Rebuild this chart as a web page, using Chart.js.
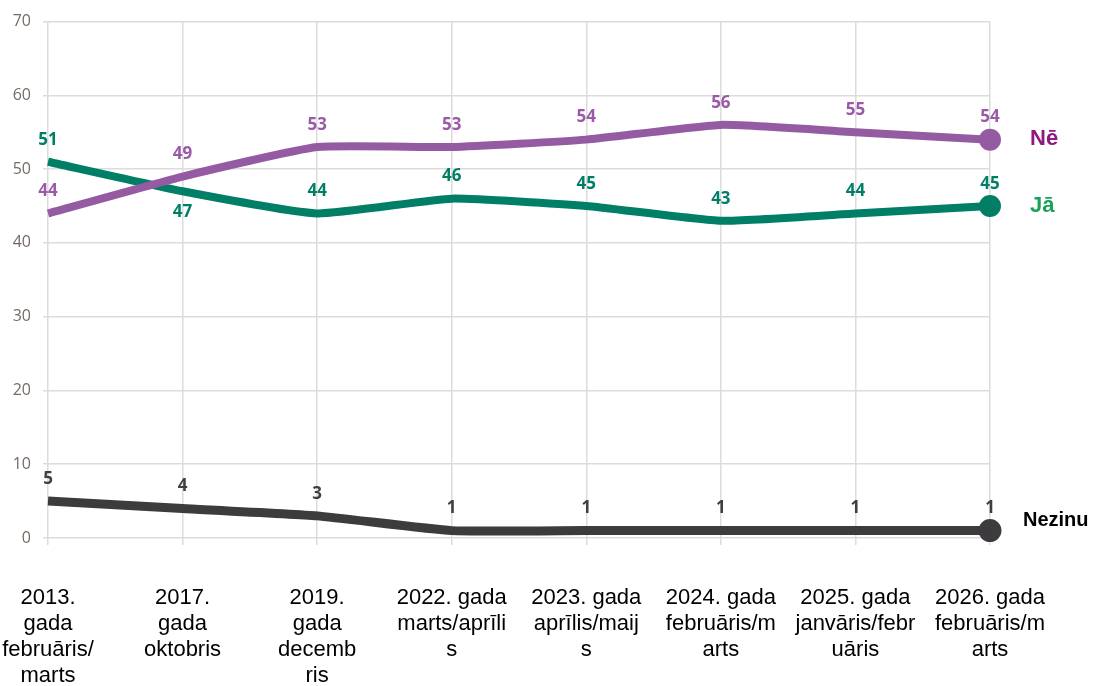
<!DOCTYPE html>
<html>
<head>
<meta charset="utf-8">
<script src="https://cdn.jsdelivr.net/npm/chart.js@4/dist/chart.umd.min.js"></script>
<style>
  html, body { margin: 0; padding: 0; background: #fff; }
  #wrap { width: 1101px; height: 686px; }
</style>
</head>
<body>
<div id="wrap"><canvas id="chart" width="1101" height="686"></canvas></div>
<script>
// survey waves (x labels, already split into lines as in the picture)
const periods = [
    ['2013.', 'gada', 'februāris/', 'marts'],
    ['2017.', 'gada', 'oktobris'],
    ['2019.', 'gada', 'decemb', 'ris'],
    ['2022. gada', 'marts/aprīli', 's'],
    ['2023. gada', 'aprīlis/maij', 's'],
    ['2024. gada', 'februāris/m', 'arts'],
    ['2025. gada', 'janvāris/febr', 'uāris'],
    ['2026. gada', 'februāris/m', 'arts']
];

const seriesNames = ['Nē', 'Jā', 'Nezinu'];
const neValues = [44, 49, 53, 53, 54, 56, 55, 54];
const jaValues = [51, 47, 44, 46, 45, 43, 44, 45];
const nezinuValues = [5, 4, 3, 1, 1, 1, 1, 1];

const yTicks = [0, 10, 20, 30, 40, 50, 60, 70];

// draws the value labels and the series names at the line ends
const labelPlugin = {
    id: 'valueLabels',
    afterDatasetsDraw(chart) {
        const ctx = chart.ctx;
        const area = chart.chartArea;
        chart.data.datasets.forEach((ds, i) => {
            const meta = chart.getDatasetMeta(i);
            ctx.save();
            ctx.font = 'bold 17px "Open Sans", sans-serif';
            ctx.fillStyle = ds.labelColor;
            ctx.textAlign = 'center';
            ctx.textBaseline = 'middle';
            meta.data.forEach((pt, j) => {
                const below = (ds.labelsBelow || []).includes(j);
                ctx.fillText(String(ds.data[j]), pt.x, below ? pt.y + 21 : pt.y - 22);
            });
            // series name at the right end
            const last = meta.data[meta.data.length - 1];
            ctx.font = ds.nameFont;
            ctx.fillStyle = ds.nameColor;
            ctx.textAlign = 'left';
            ctx.fillText(ds.label, area.right + ds.nameDx, last.y + ds.nameDy);
            ctx.restore();
        });
    }
};

function lastPointOnly(n, r) {
    return Array.from({ length: n }, (_, k) => (k === n - 1 ? r : 0));
}

const ctx = document.getElementById('chart').getContext('2d');
new Chart(ctx, {
    type: 'line',
    data: {
        labels: periods,
        datasets: [
            {
                label: seriesNames[0],
                data: neValues,
                borderColor: '#955ba2',
                backgroundColor: '#955ba2',
                borderWidth: 8,
                pointRadius: lastPointOnly(neValues.length, 7),
                clip: false,
                labelColor: '#9a5aa6',
                nameColor: '#8c1a7f',
                nameFont: 'bold 22px "Liberation Sans", Arial, sans-serif',
                nameDx: 40,
                nameDy: -1
            },
            {
                label: seriesNames[1],
                data: jaValues,
                borderColor: '#007f66',
                backgroundColor: '#007f66',
                borderWidth: 8,
                pointRadius: lastPointOnly(jaValues.length, 7),
                clip: false,
                labelColor: '#007f66',
                labelsBelow: [1],
                nameColor: '#1aa25a',
                nameFont: 'bold 22px "Liberation Sans", Arial, sans-serif',
                nameDx: 40,
                nameDy: 0
            },
            {
                label: seriesNames[2],
                data: nezinuValues,
                borderColor: '#3d3b3d',
                backgroundColor: '#3d3b3d',
                borderWidth: 9,
                pointRadius: lastPointOnly(nezinuValues.length, 7),
                clip: false,
                labelColor: '#404040',
                nameColor: '#000000',
                nameFont: 'bold 20px "Liberation Sans", Arial, sans-serif',
                nameDx: 33,
                nameDy: -10
            }
        ]
    },
    options: {
        responsive: false,
        animation: false,
        tension: 0.15,
        layout: {
            padding: { left: 0, right: 111, top: 12, bottom: 0 }
        },
        plugins: {
            legend: { display: false },
            tooltip: { enabled: false }
        },
        scales: {
            x: {
                offset: false,
                afterFit: s => { s.height = 148; s.paddingLeft = 0; s.paddingRight = 0; },
                grid: { color: '#dcdcdc', lineWidth: 1.5, tickLength: 7 },
                border: { display: false },
                ticks: {
                    autoSkip: false,
                    maxRotation: 0,
                    minRotation: 0,
                    padding: 40,
                    color: '#000',
                    font: { family: '"Liberation Sans", Arial, sans-serif', size: 22, lineHeight: 1.18 }
                }
            },
            y: {
                min: 0,
                max: 70,
                afterBuildTicks: axis => { axis.ticks = yTicks.map(v => ({ value: v })); },
                afterFit: s => { s.width = 48; },
                grid: { color: '#dcdcdc', lineWidth: 1.5, tickLength: 5 },
                border: { display: false },
                ticks: {
                    padding: 12,
                    color: '#756b66',
                    font: { family: '"Open Sans", sans-serif', size: 16 }
                }
            }
        }
    },
    plugins: [labelPlugin]
});
</script>
</body>
</html>
